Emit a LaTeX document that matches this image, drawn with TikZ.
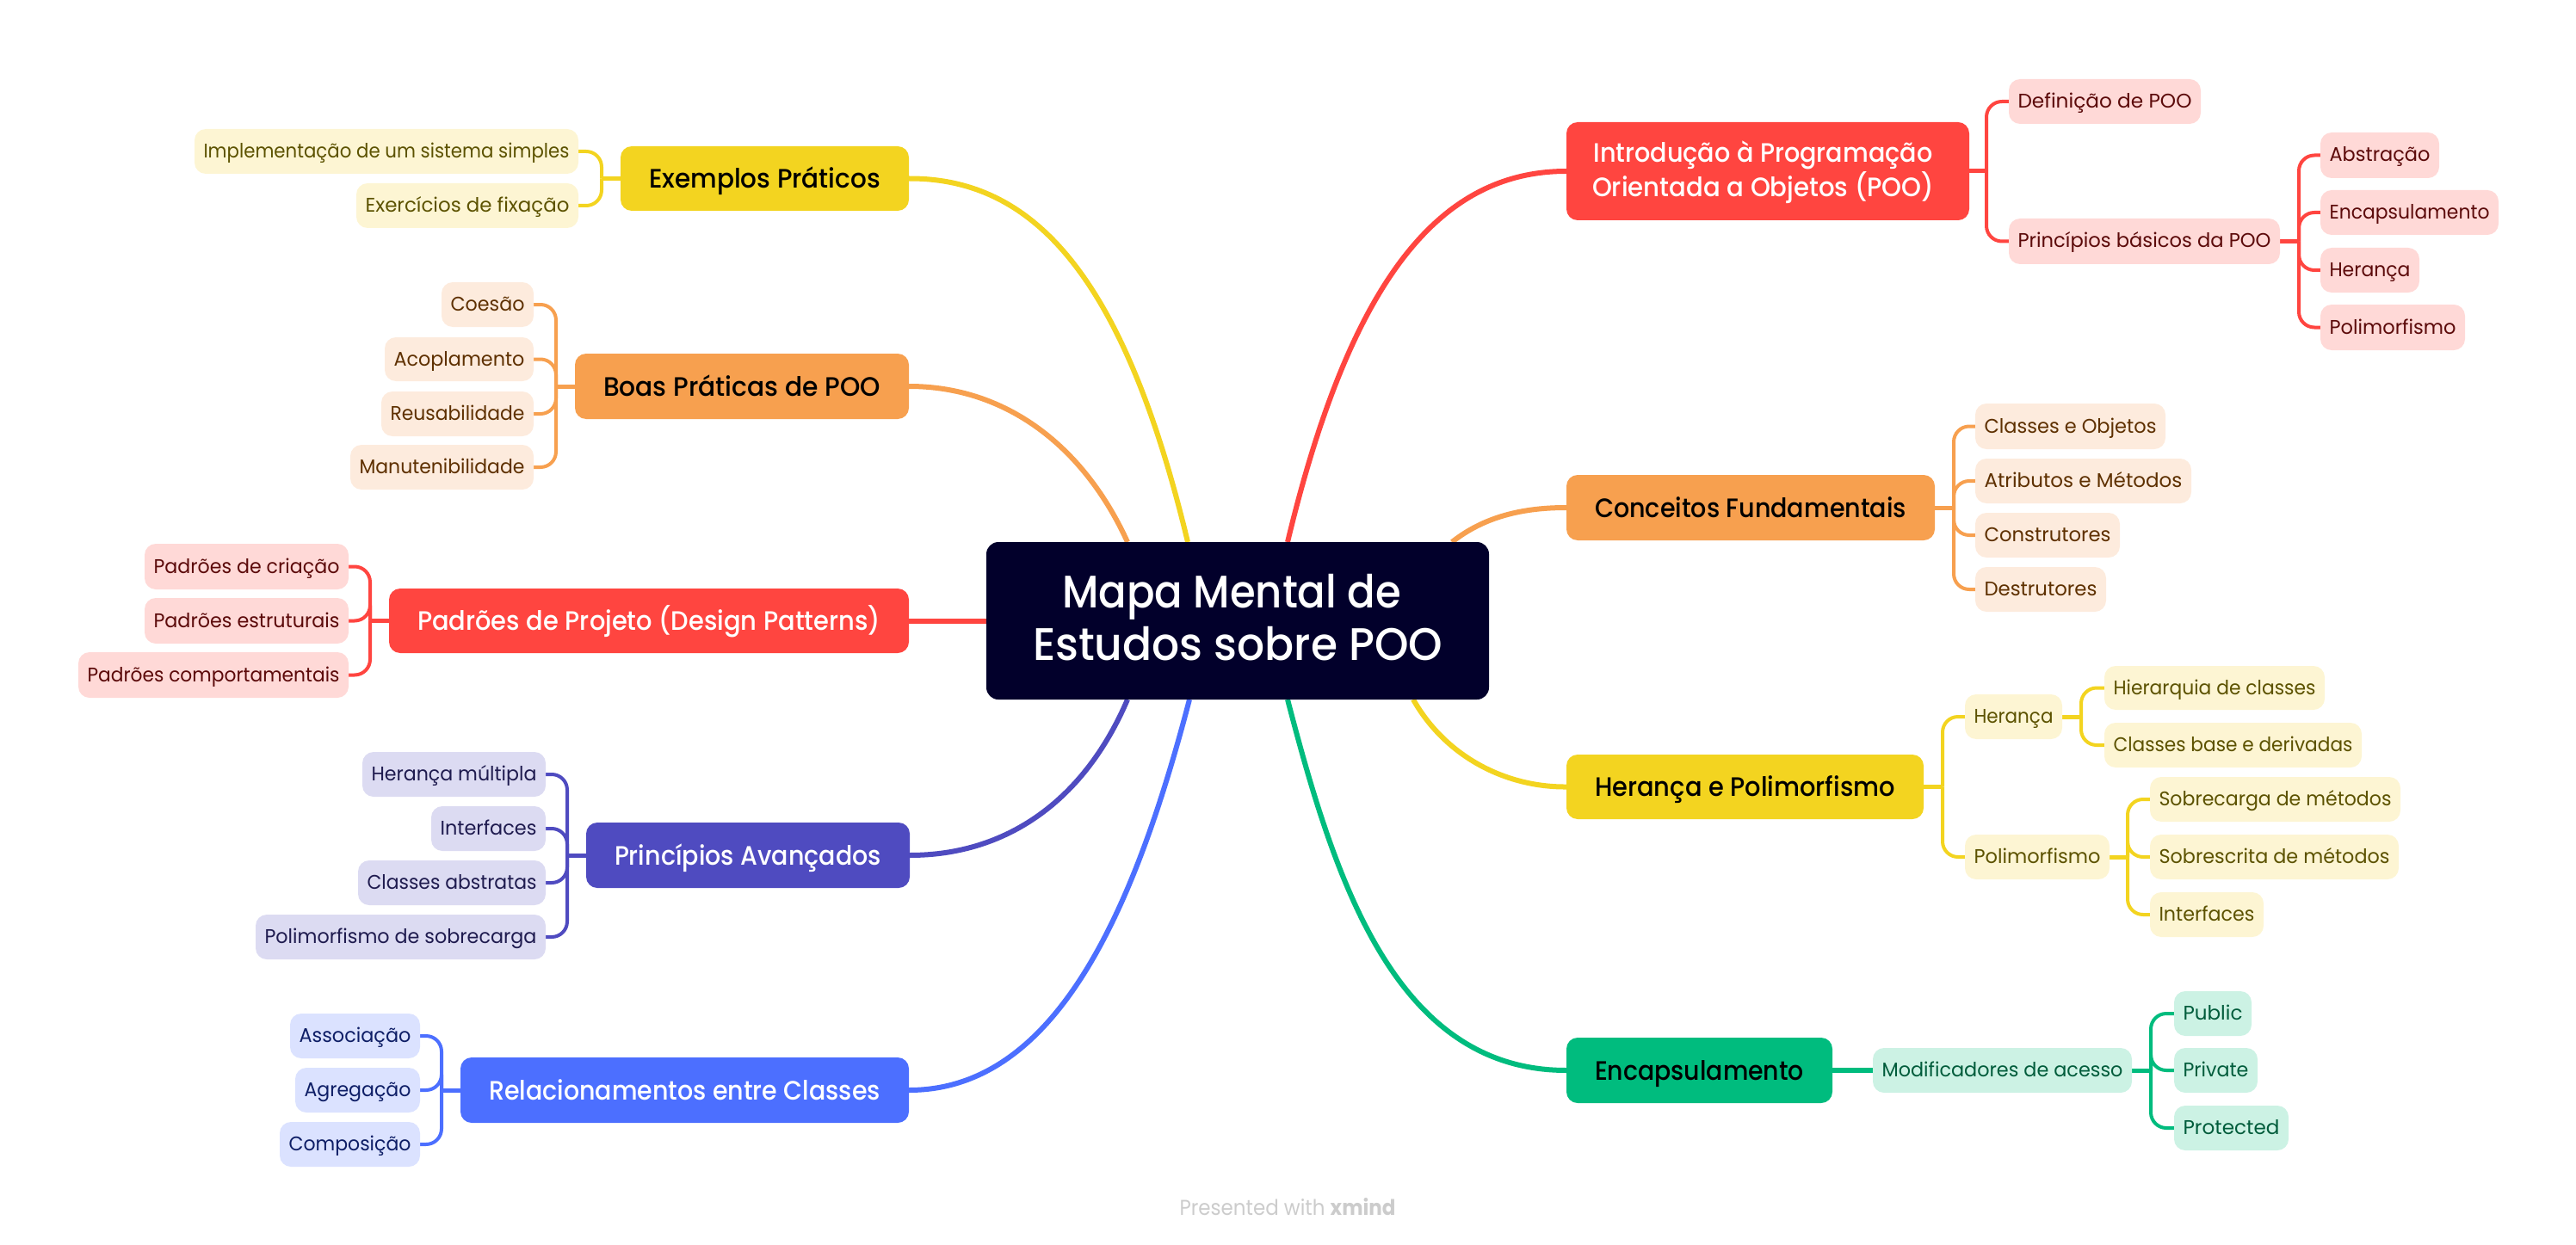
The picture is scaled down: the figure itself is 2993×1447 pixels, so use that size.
\documentclass[tikz,border=0pt]{standalone}
\usepackage{fontspec}
\setmainfont{Poppins}[FakeStretch=0.95]
\newfontfamily\medfont{Poppins Medium}[FakeStretch=0.945]
\usetikzlibrary{backgrounds}
\definecolor{redT}{HTML}{FF4540}\definecolor{redL}{HTML}{FFD9D7}\definecolor{redX}{HTML}{5C0A0A}
\definecolor{orgT}{HTML}{F7A04F}\definecolor{orgL}{HTML}{FDEBDD}\definecolor{orgX}{HTML}{5E3000}
\definecolor{yelT}{HTML}{F3D420}\definecolor{yelL}{HTML}{FDF5D3}\definecolor{yelX}{HTML}{5C5200}
\definecolor{purT}{HTML}{4F4BC0}\definecolor{purL}{HTML}{DCDBF2}\definecolor{purX}{HTML}{1F1B4F}
\definecolor{bluT}{HTML}{4C6FFF}\definecolor{bluL}{HTML}{DBE2FF}\definecolor{bluX}{HTML}{0E1E66}
\definecolor{grnT}{HTML}{00BC7E}\definecolor{grnL}{HTML}{CCF2E4}\definecolor{grnX}{HTML}{005C3B}
\definecolor{rootC}{HTML}{02002B}\definecolor{footC}{HTML}{CCCCCC}
\tikzset{
  boxbase/.style={rectangle,inner sep=0pt},
  root/.style={boxbase,fill=rootC,text=white,rounded corners=14pt,font=\medfont\fontsize{53}{61}\selectfont},
  topic/.style={boxbase,rounded corners=13pt,font=\medfont\fontsize{31}{37.7}\selectfont},
  onetopic/.style={topic,text height=22pt,text depth=0pt},
  leaf/.style={boxbase,rounded corners=13pt,text height=15pt,text depth=0pt,font=\fontsize{23}{28}\selectfont},
  link/.style={line width=6pt},
  stub/.style={line width=5pt},
  arm/.style={line width=4pt,rounded corners=18pt},
}
% set a text to a given width (pt)
\newsavebox\fitbox
\newcommand\fitw[2]{\sbox\fitbox{#2}\pgfmathsetmacro\sxx{#1/\the\wd\fitbox}\scalebox{\sxx}[1]{\usebox\fitbox}}
% box from its two corners
\newcommand\nd[7]{%
  \pgfmathsetmacro\cxx{(#3+#5)/2}\pgfmathsetmacro\cyy{(#4+#6)/2}%
  \pgfmathsetmacro\ww{#5-#3}\pgfmathsetmacro\hh{#6-#4}%
  \node[#1,minimum width=\ww pt,minimum height=\hh pt] (#2) at (\cxx,\cyy) {#7};}
% leaf: hue, name, corners, text (10.5pt padding)
\newcommand\lfn[7]{\pgfmathsetmacro\tw{#5-#3-21}\nd{leaf,fill=#1L,text=#1X}{#2}{#3}{#4}{#5}{#6}{\fitw{\tw}{#7}}}
% topic: fill, ink, name, corners, text (33pt padding)
\newcommand\tpc[8]{\pgfmathsetmacro\tw{#6-#4-66}\nd{onetopic,fill=#1,text=#2}{#3}{#4}{#5}{#6}{#7}{\fitw{\tw}{#8}}}
% two lines whose last baseline lies #1 below the node's centre
\newcommand\twolines[2]{\raisebox{-#1}[0pt][0pt]{\begin{tabular}[b]{@{}c@{}}#2\end{tabular}}}
% branch: colour, parent anchor, bracket coordinate, list of child anchors
\newcommand\brk[4]{%
  \draw[stub,#1] (#2) -- (#2 -| #3);
  \foreach \c in {#4}{\draw[arm,#1] (#2 -| #3) -- (\c -| #3) -- (\c);}}
\begin{document}
\begin{tikzpicture}[x=1pt,y=-1pt]
\useasboundingbox (0,0) rectangle (2993,1447);
\nd{root}{central}{1146}{630}{1730}{813}{\twolines{45.5pt}{\fitw{394}{Mapa Mental de}\rule{14pt}{0pt}\\\fitw{476}{Estudos sobre POO}}}
% right: intro
\nd{topic,fill=redT,text=white}{intro}{1820}{142}{2288}{256}{\twolines{30pt}{\fitw{394}{Introdução à Programação}\rule{11pt}{0pt}\\\fitw{397}{Orientada a Objetos (POO)}\rule{11pt}{0pt}}}
\lfn{red}{defi}{2334}{92}{2557}{144}{Definição de POO}
\lfn{red}{princ}{2334}{254}{2649}{307}{Princípios básicos da POO}
\lfn{red}{abst}{2696}{154}{2834}{207}{Abstração}
\lfn{red}{enca}{2696}{221}{2903}{273}{Encapsulamento}
\lfn{red}{hera}{2696}{288}{2811}{340}{Herança}
\lfn{red}{poli}{2696}{354}{2864}{407}{Polimorfismo}
% right: conceitos
\tpc{orgT}{black}{conc}{1820}{552}{2248}{628}{Conceitos Fundamentais}
\lfn{org}{clob}{2295}{469}{2516}{522}{Classes e Objetos}
\lfn{org}{atme}{2295}{533}{2546}{585}{Atributos e Métodos}
\lfn{org}{cons}{2295}{596}{2463}{648}{Construtores}
\lfn{org}{dest}{2295}{659}{2447}{711}{Destrutores}
% right: heranca
\tpc{yelT}{black}{hepo}{1820}{877}{2235}{952}{Herança e Polimorfismo}
\lfn{yel}{h2}{2283}{807}{2396}{859}{Herança}
\lfn{yel}{p2}{2283}{970}{2451}{1022}{Polimorfismo}
\lfn{yel}{hier}{2445}{774}{2701}{825}{Hierarquia de classes}
\lfn{yel}{cbas}{2445}{840}{2744}{892}{Classes base e derivadas}
\lfn{yel}{sobc}{2498}{903}{2789}{955}{Sobrecarga de métodos}
\lfn{yel}{sobs}{2498}{970}{2787}{1022}{Sobrescrita de métodos}
\lfn{yel}{intf}{2498}{1037}{2630}{1089}{Interfaces}
% right: encapsulamento
\tpc{grnT}{black}{encp}{1820}{1206}{2129}{1282}{Encapsulamento}
\lfn{grn}{modi}{2176}{1218}{2477}{1270}{Modificadores de acesso}
\lfn{grn}{publ}{2526}{1152}{2616}{1204}{Public}
\lfn{grn}{priv}{2526}{1218}{2623}{1270}{Private}
\lfn{grn}{prot}{2526}{1285}{2659}{1337}{Protected}
% left: exemplos
\tpc{yelT}{black}{exem}{721}{170}{1056}{245}{Exemplos Práticos}
\lfn{yel}{impl}{226}{150}{672}{202}{Implementação de um sistema simples}
\lfn{yel}{exer}{414}{213}{672}{265}{Exercícios de fixação}
% left: boas praticas
\tpc{orgT}{black}{boas}{668}{411}{1056}{487}{Boas Práticas de POO}
\lfn{org}{coes}{513}{328}{620}{380}{Coesão}
\lfn{org}{acop}{447}{392}{620}{443}{Acoplamento}
\lfn{org}{reus}{443}{455}{620}{507}{Reusabilidade}
\lfn{org}{manu}{407}{517}{620}{569}{Manutenibilidade}
% left: padroes
\tpc{redT}{white}{padr}{452}{684}{1056}{759}{Padrões de Projeto (Design Patterns)}
\lfn{red}{pcri}{168}{632}{405}{685}{Padrões de criação}
\lfn{red}{pest}{168}{695}{405}{748}{Padrões estruturais}
\lfn{red}{pcom}{91}{758}{405}{811}{Padrões comportamentais}
% left: principios
\tpc{purT}{white}{pava}{681}{956}{1057}{1032}{Princípios Avançados}
\lfn{pur}{hmul}{421}{874}{634}{926}{Herança múltipla}
\lfn{pur}{ints}{501}{937}{634}{989}{Interfaces}
\lfn{pur}{cabs}{416}{1000}{634}{1052}{Classes abstratas}
\lfn{pur}{psob}{297}{1063}{634}{1115}{Polimorfismo de sobrecarga}
% left: relacionamentos
\tpc{bluT}{white}{rela}{535}{1229}{1056}{1305}{Relacionamentos entre Classes}
\lfn{blu}{asso}{337}{1178}{488}{1230}{Associação}
\lfn{blu}{agre}{343}{1241}{488}{1293}{Agregação}
\lfn{blu}{comp}{325}{1304}{488}{1356}{Composição}
% footer
\node[font=\fontsize{25}{28}\selectfont,text=footC,inner sep=0pt] (foot) at (1496,1403) {\fitw{251}{Presented with \textbf{xmind}}};
% bracket columns
\coordinate (bIntro) at (2308,0);\coordinate (bPrinc) at (2671,0);
\coordinate (bConc) at (2270,0);\coordinate (bHepo) at (2257,0);
\coordinate (bHer) at (2418,0);\coordinate (bPol) at (2472,0);
\coordinate (bEncp) at (2499,0);\coordinate (bExem) at (699,0);
\coordinate (bBoas) at (646,0);\coordinate (bPadr) at (430,0);
\coordinate (bPava) at (659,0);\coordinate (bRela) at (513,0);
% where the main links meet the central box
\coordinate (sIntro) at (1496,630);\coordinate (sConc) at (1687,630);
\coordinate (sHepo) at (1642,813);\coordinate (sEncp) at (1496,813);
\coordinate (sExem) at (1380,630);\coordinate (sBoas) at (1310,630);
\coordinate (sPava) at (1310,813);\coordinate (sRela) at (1382,813);
\begin{scope}[on background layer]
\draw[link,redT] (sIntro) .. controls (1568,330) and (1670,199) .. (intro.west);
\draw[link,orgT] (sConc) .. controls (1725,600) and (1770,590) .. (conc.west);
\draw[link,yelT] (sHepo) .. controls (1680,880) and (1750,915) .. (hepo.west);
\draw[link,grnT] (sEncp) .. controls (1550,1020) and (1620,1244) .. (encp.west);
\draw[link,yelT] (sExem) .. controls (1308,330) and (1206,207) .. (exem.east);
\draw[link,orgT] (sBoas) .. controls (1260,520) and (1170,449) .. (boas.east);
\draw[link,purT] (sPava) .. controls (1260,930) and (1170,994) .. (pava.east);
\draw[link,bluT] (sRela) .. controls (1320,1050) and (1230,1267) .. (rela.east);
\draw[link,redT] (padr.east) -- (central.west |- padr.east);
\draw[link,grnT] (encp.east) -- (modi.west);
\brk{redT}{intro.east}{bIntro}{defi.west,princ.west}
\brk{redT}{princ.east}{bPrinc}{abst.west,enca.west,hera.west,poli.west}
\brk{orgT}{conc.east}{bConc}{clob.west,atme.west,cons.west,dest.west}
\brk{yelT}{hepo.east}{bHepo}{h2.west,p2.west}
\brk{yelT}{h2.east}{bHer}{hier.west,cbas.west}
\brk{yelT}{p2.east}{bPol}{sobc.west,sobs.west,intf.west}
\brk{grnT}{modi.east}{bEncp}{publ.west,priv.west,prot.west}
\brk{yelT}{exem.west}{bExem}{impl.east,exer.east}
\brk{orgT}{boas.west}{bBoas}{coes.east,acop.east,reus.east,manu.east}
\brk{redT}{padr.west}{bPadr}{pcri.east,pest.east,pcom.east}
\brk{purT}{pava.west}{bPava}{hmul.east,ints.east,cabs.east,psob.east}
\brk{bluT}{rela.west}{bRela}{asso.east,agre.east,comp.east}
\end{scope}
\end{tikzpicture}
\end{document}
